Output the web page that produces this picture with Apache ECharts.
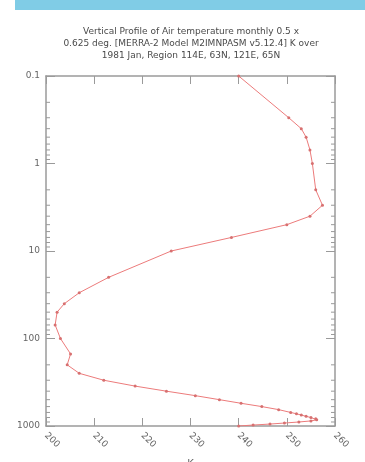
<!DOCTYPE html>
<html><head><meta charset="utf-8">
<script src="https://cdn.jsdelivr.net/npm/echarts@6/dist/echarts.min.js"></script>
<style>html,body{margin:0;padding:0;background:#fff}#c{width:365px;height:462px}</style>
</head><body><div id="c"></div>
<script>
const titleLines = [
  'Vertical Profile of Air temperature monthly 0.5 x',
  '0.625 deg. [MERRA-2 Model M2IMNPASM v5.12.4] K over',
  '1981 Jan, Region 114E, 63N, 121E, 65N'
];
const pressureHPa = [1000, 975, 950, 925, 900, 875, 850, 825, 800, 775, 750, 725, 700, 650, 600, 550, 500, 450, 400, 350, 300, 250, 200, 150, 100, 70, 50, 40, 30, 20, 10, 7, 5, 4, 3, 2, 1, 0.7, 0.5, 0.4, 0.3, 0.1];
const temperatureK = [240, 243, 246.5, 249.5, 252.5, 255, 256.2, 256, 255, 254, 253, 252, 250.8, 248.3, 244.8, 240.5, 236, 231, 225, 218.5, 212, 206.9, 204.4, 205.1, 203, 201.9, 202.3, 203.8, 206.9, 213, 226, 238.5, 250, 254.8, 257.4, 256, 255.3, 254.8, 254, 253, 250.4, 240];
const xTickValues = [200, 210, 220, 230, 240, 250, 260];
const yTickLabels = [0.1, 1, 10, 100, 1000];
const yMinorTicks = [0.2,0.3,0.4,0.5,0.6,0.7,0.8,0.9, 2,3,4,5,6,7,8,9, 20,30,40,50,60,70,80,90, 200,300,400,500,600,700,800,900];
const xAxisName = 'K';

const chart = echarts.init(document.getElementById('c'), null, {renderer: 'canvas'});
const axisCol = '#9a9a9a';
const txtCol = '#666';
const font = 'DejaVu Sans';
const xMin = xTickValues[0], xMax = xTickValues[xTickValues.length - 1];

const baseX = {
  type: 'value', min: xMin, max: xMax, interval: 10,
  splitLine: {show: false},
  axisLine: {show: true, onZero: false, lineStyle: {color: axisCol, width: 1.5}},
  axisTick: {show: true, inside: true, length: 8, lineStyle: {color: axisCol}}
};
const baseYLog = {
  type: 'log', logBase: 10, min: yTickLabels[0], max: yTickLabels[yTickLabels.length - 1], inverse: true,
  splitLine: {show: false},
  axisLine: {show: true, onZero: false, lineStyle: {color: axisCol, width: 1.5}},
  axisTick: {show: true, inside: true, length: 9, lineStyle: {color: axisCol}}
};

chart.setOption({
  animation: false,
  backgroundColor: '#fff',
  graphic: [
    {type: 'rect', shape: {x: 15, y: 0, width: 350, height: 10}, style: {fill: '#80cce6'}},
    {type: 'text', x: 191, y: 26, style: {text: titleLines.join('\n'), fill: '#4a4a4a', font: '9px "DejaVu Sans"', align: 'center', lineHeight: 12}}
  ],
  grid: {left: 46, right: 30, top: 76, bottom: 36, containLabel: false, outerBoundsMode: 'none'},
  xAxis: [
    Object.assign({}, baseX, {position: 'bottom',
      name: xAxisName, nameLocation: 'middle', nameGap: 33,
      nameTextStyle: {color: txtCol, fontFamily: font, fontSize: 10},
      axisLabel: {show: true, rotate: -45, color: txtCol, fontFamily: font, fontSize: 9, margin: 8}}),
    Object.assign({}, baseX, {position: 'top', axisLabel: {show: false}})
  ],
  yAxis: [
    Object.assign({}, baseYLog, {position: 'left',
      axisLabel: {show: true, color: txtCol, fontFamily: font, fontSize: 9, margin: 6,
        formatter: v => String(v)}}),
    Object.assign({}, baseYLog, {position: 'right', axisLabel: {show: false}})
  ],
  series: [{
    type: 'custom', xAxisIndex: 0, yAxisIndex: 0, silent: true, z: 1,
    data: yMinorTicks.map(v => [xMin, v]),
    encode: {x: 0, y: 1},
    renderItem: function (params, api) {
      const pt = api.coord([api.value(0), api.value(1)]);
      const cs = params.coordSys;
      const st = {stroke: axisCol, lineWidth: 1};
      return {type: 'group', children: [
        {type: 'line', shape: {x1: cs.x, y1: pt[1], x2: cs.x + 4, y2: pt[1]}, style: st},
        {type: 'line', shape: {x1: cs.x + cs.width - 4, y1: pt[1], x2: cs.x + cs.width, y2: pt[1]}, style: st}
      ]};
    }
  }, {
    type: 'line', xAxisIndex: 0, yAxisIndex: 0, z: 3,
    data: pressureHPa.map((p, i) => [temperatureK[i], p]),
    lineStyle: {color: '#ec7b7b', width: 1},
    symbol: 'circle', symbolSize: 3,
    itemStyle: {color: '#d77070'},
    smooth: false
  }]
});
</script></body></html>
